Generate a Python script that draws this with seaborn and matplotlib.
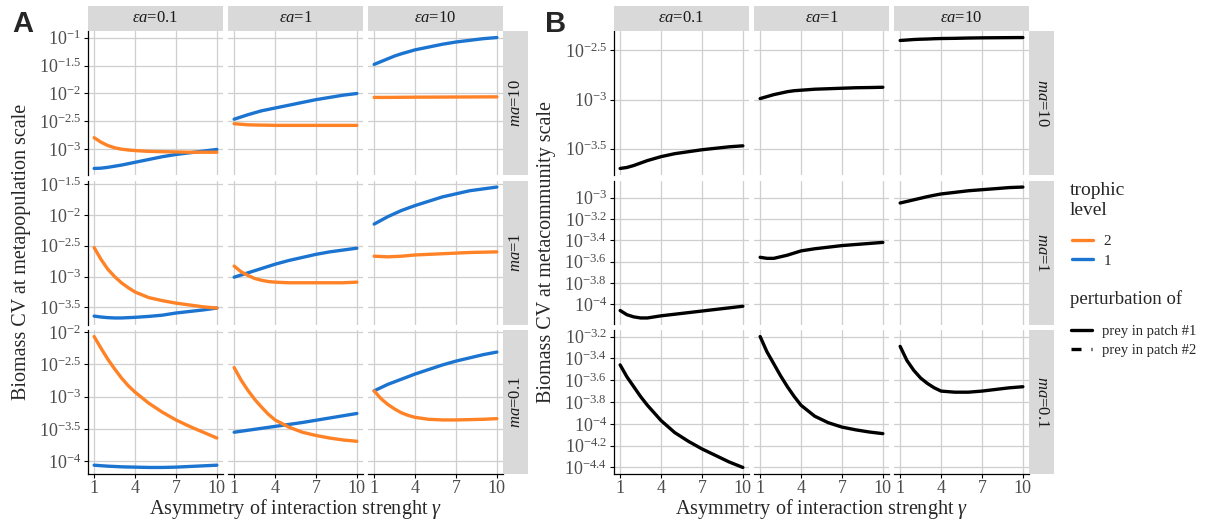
import matplotlib
matplotlib.use("Agg")
import numpy as np
import pandas as pd
import matplotlib.pyplot as plt
import seaborn as sns
from matplotlib.lines import Line2D
from matplotlib.ticker import MultipleLocator, FixedLocator, FuncFormatter

# ---------------- data (log10 of biomass CV) ----------------
gamma = [1, 1.5, 2, 2.5, 3, 3.5, 4, 5, 6, 7, 8, 9, 10]
ea_levels = ["0.1", "1", "10"]
ma_levels = ["10", "1", "0.1"]

# Panel A: metapopulation scale, trophic level 2 (orange) and 1 (blue)
A_ma10_tl2 = {
    "0.1": [-2.79, -2.87, -2.93, -2.97, -2.995, -3.01, -3.02, -3.035, -3.04, -3.045, -3.05, -3.05, -3.05],
    "1":   [-2.54, -2.55, -2.56, -2.563, -2.565, -2.567, -2.57, -2.57, -2.57, -2.57, -2.57, -2.57, -2.57],
    "10":  [-2.07, -2.07, -2.07, -2.069, -2.068, -2.067, -2.066, -2.065, -2.064, -2.063, -2.062, -2.061, -2.06],
}
A_ma10_tl1 = {
    "0.1": [-3.34, -3.335, -3.32, -3.30, -3.28, -3.255, -3.23, -3.18, -3.13, -3.09, -3.06, -3.03, -3.00],
    "1":   [-2.46, -2.42, -2.38, -2.345, -2.31, -2.285, -2.26, -2.21, -2.16, -2.11, -2.07, -2.03, -2.00],
    "10":  [-1.48, -1.43, -1.38, -1.33, -1.29, -1.255, -1.22, -1.17, -1.12, -1.08, -1.05, -1.02, -1.00],
}
A_ma1_tl2 = {
    "0.1": [-2.53, -2.72, -2.88, -3.00, -3.10, -3.18, -3.25, -3.34, -3.39, -3.43, -3.46, -3.49, -3.51],
    "1":   [-2.83, -2.92, -2.98, -3.03, -3.06, -3.08, -3.09, -3.10, -3.10, -3.10, -3.10, -3.10, -3.09],
    "10":  [-2.67, -2.675, -2.68, -2.675, -2.67, -2.66, -2.65, -2.64, -2.63, -2.62, -2.61, -2.605, -2.60],
}
A_ma1_tl1 = {
    "0.1": [-3.64, -3.655, -3.665, -3.67, -3.67, -3.665, -3.66, -3.645, -3.625, -3.59, -3.565, -3.54, -3.51],
    "1":   [-3.01, -2.975, -2.94, -2.905, -2.87, -2.835, -2.80, -2.74, -2.69, -2.64, -2.60, -2.57, -2.54],
    "10":  [-2.15, -2.09, -2.03, -1.98, -1.93, -1.89, -1.85, -1.78, -1.71, -1.66, -1.61, -1.58, -1.55],
}
A_ma01_tl2 = {
    "0.1": [-2.07, -2.25, -2.42, -2.57, -2.71, -2.83, -2.93, -3.10, -3.24, -3.36, -3.46, -3.55, -3.64],
    "1":   [-2.55, -2.74, -2.90, -3.04, -3.16, -3.27, -3.36, -3.47, -3.55, -3.60, -3.64, -3.67, -3.69],
    "10":  [-2.91, -3.03, -3.12, -3.19, -3.25, -3.29, -3.32, -3.35, -3.36, -3.36, -3.355, -3.35, -3.34],
}
A_ma01_tl1 = {
    "0.1": [-4.06, -4.068, -4.075, -4.08, -4.085, -4.088, -4.09, -4.095, -4.095, -4.09, -4.08, -4.07, -4.06],
    "1":   [-3.55, -3.535, -3.52, -3.505, -3.49, -3.475, -3.46, -3.43, -3.40, -3.365, -3.33, -3.295, -3.26],
    "10":  [-2.91, -2.86, -2.81, -2.77, -2.73, -2.69, -2.65, -2.58, -2.51, -2.45, -2.40, -2.35, -2.31],
}

# Panel B: metacommunity scale, perturbation of prey in patch #1
B_ma10 = {
    "0.1": [-3.70, -3.69, -3.67, -3.645, -3.62, -3.60, -3.58, -3.55, -3.53, -3.51, -3.495, -3.48, -3.47],
    "1":   [-2.99, -2.97, -2.95, -2.935, -2.92, -2.91, -2.905, -2.895, -2.89, -2.885, -2.88, -2.878, -2.875],
    "10":  [-2.40, -2.395, -2.39, -2.387, -2.385, -2.382, -2.38, -2.378, -2.375, -2.373, -2.372, -2.371, -2.37],
}
B_ma1 = {
    "0.1": [-4.06, -4.10, -4.12, -4.13, -4.13, -4.12, -4.11, -4.095, -4.08, -4.065, -4.05, -4.035, -4.02],
    "1":   [-3.56, -3.57, -3.57, -3.555, -3.54, -3.52, -3.50, -3.48, -3.465, -3.45, -3.44, -3.43, -3.42],
    "10":  [-3.05, -3.035, -3.02, -3.005, -2.99, -2.977, -2.965, -2.95, -2.935, -2.925, -2.915, -2.905, -2.90],
}
B_ma01 = {
    "0.1": [-3.46, -3.57, -3.66, -3.75, -3.83, -3.90, -3.97, -4.08, -4.16, -4.23, -4.29, -4.35, -4.40],
    "1":   [-3.20, -3.34, -3.45, -3.56, -3.66, -3.75, -3.83, -3.93, -3.99, -4.03, -4.055, -4.075, -4.09],
    "10":  [-3.29, -3.42, -3.51, -3.58, -3.63, -3.67, -3.70, -3.71, -3.71, -3.70, -3.685, -3.67, -3.66],
}

A_tl2 = {"10": A_ma10_tl2, "1": A_ma1_tl2, "0.1": A_ma01_tl2}
A_tl1 = {"10": A_ma10_tl1, "1": A_ma1_tl1, "0.1": A_ma01_tl1}
B_p1 = {"10": B_ma10, "1": B_ma1, "0.1": B_ma01}

rowsA = []
for ma in ma_levels:
    for ea in ea_levels:
        for g, v in zip(gamma, A_tl2[ma][ea]):
            rowsA.append(dict(ma=ma, ea=ea, level="2", gamma=g, log10_cv=v))
        for g, v in zip(gamma, A_tl1[ma][ea]):
            rowsA.append(dict(ma=ma, ea=ea, level="1", gamma=g, log10_cv=v))
dfA = pd.DataFrame(rowsA)
rowsB = []
for ma in ma_levels:
    for ea in ea_levels:
        for g, v in zip(gamma, B_p1[ma][ea]):
            rowsB.append(dict(ma=ma, ea=ea, pert="prey in patch #1", gamma=g, log10_cv=v))
dfB = pd.DataFrame(rowsB)

# ---------------- style ----------------
sns.set_theme(style="white")
plt.rcParams["font.family"] = ["Liberation Serif", "DejaVu Serif"]
plt.rcParams["mathtext.fontset"] = "custom"
plt.rcParams["mathtext.rm"] = "Liberation Serif"
plt.rcParams["mathtext.it"] = "Liberation Serif:italic"
plt.rcParams["mathtext.bf"] = "Liberation Serif:bold"

ORANGE = "#FF8226"
BLUE = "#1C74D1"
GRID = "#CFCFCF"
STRIP = "#D9D9D9"
TICKC = "#4D4D4D"

W, H = 1215, 524
fig = plt.figure(figsize=(W / 100, H / 100), dpi=100)
fig.patch.set_facecolor("white")


def rect(x0, y0, x1, y1):
    return [x0 / W, 1 - y1 / H, (x1 - x0) / W, (y1 - y0) / H]


rows_y = [(31, 175), (180.5, 324.5), (330, 474)]
colsA = [(88, 223), (228, 363), (368, 503)]
colsB = [(614, 749), (754, 889), (894, 1029)]


def fmt(v, pos):
    s = f"{round(v, 2):g}"
    return r"$10^{" + s + "}$"


def draw_panel(cols, df, kind, step, strip_x, strip_rot):
    first = None
    for i, ma in enumerate(ma_levels):
        rowfirst = None
        for j, ea in enumerate(ea_levels):
            x0, x1 = cols[j]
            y0, y1 = rows_y[i]
            ax = fig.add_axes(rect(x0, y0, x1, y1), sharex=first, sharey=rowfirst)
            if first is None:
                first = ax
            if rowfirst is None:
                rowfirst = ax
            sub = df[(df.ma == ma) & (df.ea == ea)]
            if kind == "A":
                sns.lineplot(data=sub, x="gamma", y="log10_cv", hue="level",
                             hue_order=["1", "2"], palette={"2": ORANGE, "1": BLUE},
                             linewidth=2.4, legend=False, ax=ax)
            else:
                sns.lineplot(data=sub, x="gamma", y="log10_cv", color="black",
                             linewidth=2.4, legend=False, ax=ax)
            ax.set_xlabel("")
            ax.set_ylabel("")
            ax.set_facecolor("white")
            ax.grid(True, color=GRID, linewidth=0.9)
            ax.set_axisbelow(True)
            ax.xaxis.set_major_locator(FixedLocator([1, 4, 7, 10]))
            ax.yaxis.set_major_locator(MultipleLocator(step[i]))
            ax.yaxis.set_major_formatter(FuncFormatter(fmt))
            for s in ax.spines.values():
                s.set_visible(False)
            left = (j == 0)
            bottom = (i == 2)
            if left:
                ax.spines["left"].set_visible(True)
                ax.spines["left"].set_color("black")
                ax.spines["left"].set_linewidth(0.9)
            if bottom:
                ax.spines["bottom"].set_visible(True)
                ax.spines["bottom"].set_color("black")
                ax.spines["bottom"].set_linewidth(0.9)
            ax.tick_params(axis="y", left=left, labelleft=left, length=3, width=0.8,
                           color="black", labelcolor=TICKC, labelsize=13, pad=2)
            ax.tick_params(axis="x", bottom=bottom, labelbottom=bottom, length=3, width=0.8,
                           color="black", labelcolor=TICKC, labelsize=13, pad=1)
            # top strip
            if i == 0:
                sax = fig.add_axes(rect(x0, 6, x1, 31))
                sax.set_facecolor(STRIP)
                sax.set_xticks([]); sax.set_yticks([])
                for s in sax.spines.values():
                    s.set_visible(False)
                sax.text(0.5, 0.5, r"$\varepsilon a$=" + ea, ha="center", va="center",
                         fontsize=12, color="#1A1A1A", transform=sax.transAxes)
        # right strip
        y0, y1 = rows_y[i]
        rax = fig.add_axes(rect(strip_x, y0, strip_x + 25, y1))
        rax.set_facecolor(STRIP)
        rax.set_xticks([]); rax.set_yticks([])
        for s in rax.spines.values():
            s.set_visible(False)
        rax.text(0.5, 0.5, r"$ma$=" + ma, ha="center", va="center", rotation=strip_rot,
                 fontsize=12, color="#1A1A1A", transform=rax.transAxes)


draw_panel(colsA, dfA, "A", [0.5, 0.5, 0.5], 503, 90)
draw_panel(colsB, dfB, "B", [0.5, 0.2, 0.2], 1029, -90)

# axis titles
fig.text(22 / W, 1 - 252 / H, "Biomass CV at metapopulation scale", rotation=90,
         ha="center", va="center", fontsize=14.5)
fig.text(546 / W, 1 - 252 / H, "Biomass CV at metacommunity scale", rotation=90,
         ha="center", va="center", fontsize=14.5)
fig.text(295.5 / W, 1 - 509 / H, r"Asymmetry of interaction strenght $\gamma$",
         ha="center", va="center", fontsize=14.5)
fig.text(821.5 / W, 1 - 509 / H, r"Asymmetry of interaction strenght $\gamma$",
         ha="center", va="center", fontsize=14.5)

# panel letters
fig.text(12 / W, 1 - 24 / H, "A", fontsize=21, fontweight="bold",
         family="Liberation Sans", ha="left", va="center")
fig.text(545 / W, 1 - 24 / H, "B", fontsize=21, fontweight="bold",
         family="Liberation Sans", ha="left", va="center")

# legends
fig.text(1070 / W, 1 - 195 / H, "trophic", fontsize=14, ha="left", va="baseline")
fig.text(1070 / W, 1 - 215 / H, "level", fontsize=14, ha="left", va="baseline")
h_tl = [Line2D([], [], color=ORANGE, lw=2.4), Line2D([], [], color=BLUE, lw=2.4)]
leg1 = fig.legend(h_tl, ["2", "1"], loc="upper left",
                  bbox_to_anchor=(1064 / W, 1 - 227 / H), frameon=False,
                  fontsize=11, handlelength=1.4,
                  handletextpad=0.7, labelspacing=0.38, borderpad=0)
fig.text(1070 / W, 1 - 304 / H, "perturbation of", fontsize=13.5, ha="left", va="baseline")
h_p = [Line2D([], [], color="black", lw=2.4),
       Line2D([], [], color="black", lw=2.4, dashes=(3, 3))]
leg2 = fig.legend(h_p, ["prey in patch #1", "prey in patch #2"],
                  loc="upper left", bbox_to_anchor=(1064 / W, 1 - 318 / H), frameon=False,
                  fontsize=10.5, handlelength=1.4,
                  handletextpad=0.7, labelspacing=0.38, borderpad=0)

fig.savefig("out.png", dpi=100, facecolor="white")
